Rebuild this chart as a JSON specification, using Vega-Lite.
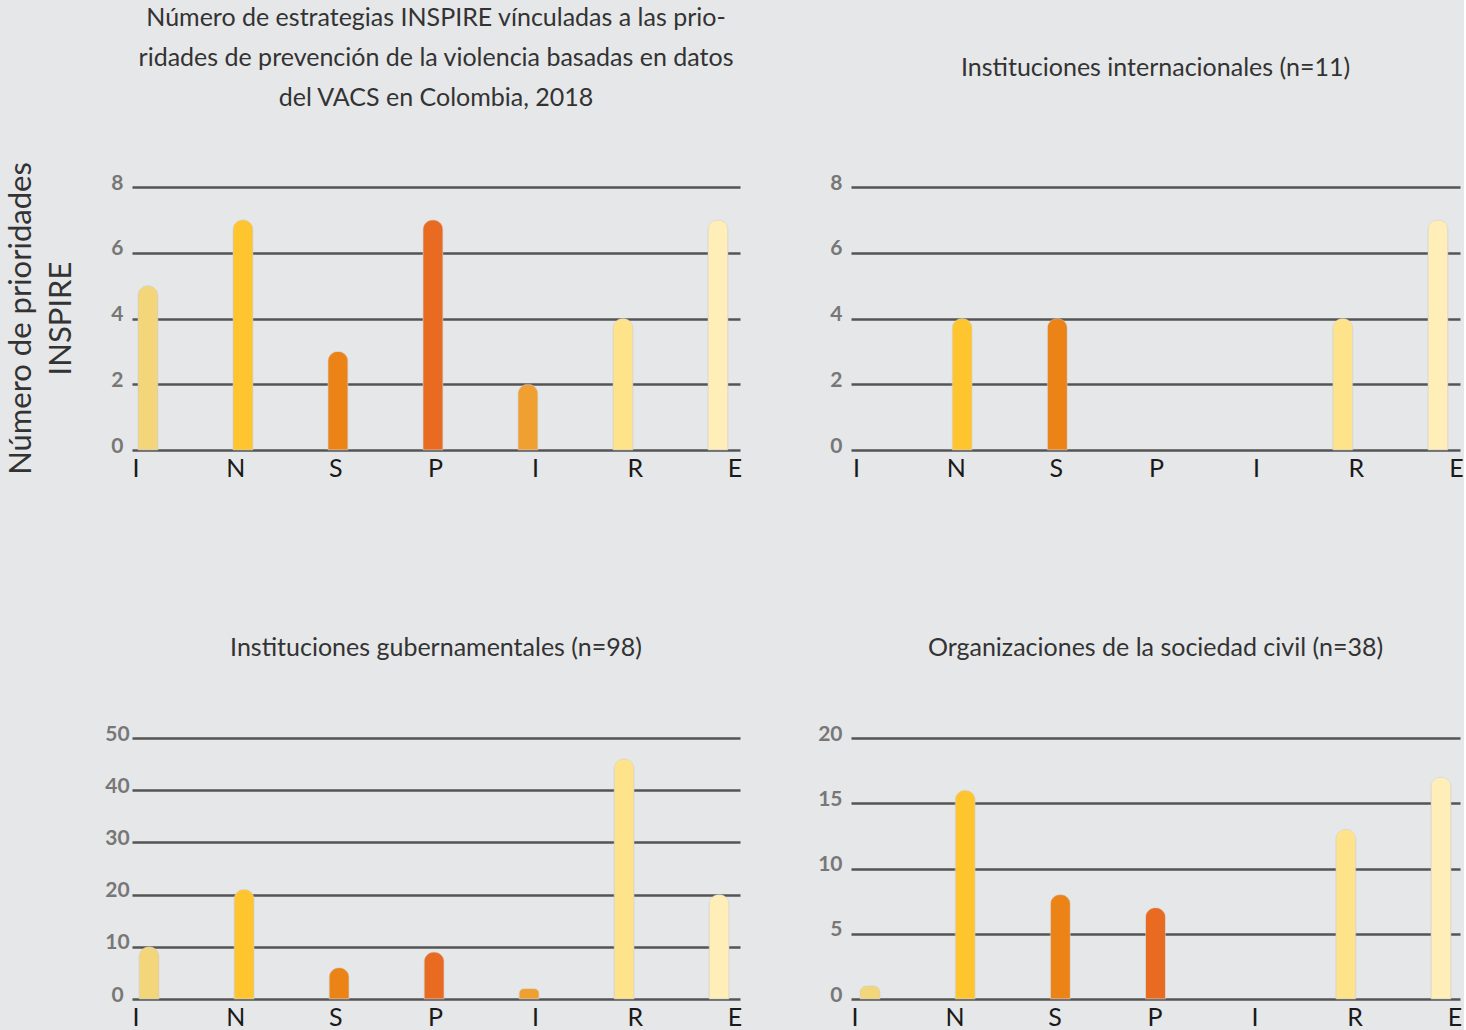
{
  "$schema": "https://vega.github.io/schema/vega-lite/v6.json",
  "background": "#e6e7e9",
  "padding": {"left": 4, "top": 5, "right": 0, "bottom": 0},
  "datasets": {
    "tl": [
      {"idx": 1, "letter": "I", "value": 5},
      {"idx": 2, "letter": "N", "value": 7},
      {"idx": 3, "letter": "S", "value": 3},
      {"idx": 4, "letter": "P", "value": 7},
      {"idx": 5, "letter": "I", "value": 2},
      {"idx": 6, "letter": "R", "value": 4},
      {"idx": 7, "letter": "E", "value": 7}
    ],
    "tr": [
      {"idx": 1, "letter": "I", "value": 0},
      {"idx": 2, "letter": "N", "value": 4},
      {"idx": 3, "letter": "S", "value": 4},
      {"idx": 4, "letter": "P", "value": 0},
      {"idx": 5, "letter": "I", "value": 0},
      {"idx": 6, "letter": "R", "value": 4},
      {"idx": 7, "letter": "E", "value": 7}
    ],
    "bl": [
      {"idx": 1, "letter": "I", "value": 10},
      {"idx": 2, "letter": "N", "value": 21},
      {"idx": 3, "letter": "S", "value": 6},
      {"idx": 4, "letter": "P", "value": 9},
      {"idx": 5, "letter": "I", "value": 2},
      {"idx": 6, "letter": "R", "value": 46},
      {"idx": 7, "letter": "E", "value": 20}
    ],
    "br": [
      {"idx": 1, "letter": "I", "value": 1},
      {"idx": 2, "letter": "N", "value": 16},
      {"idx": 3, "letter": "S", "value": 8},
      {"idx": 4, "letter": "P", "value": 7},
      {"idx": 5, "letter": "I", "value": 0},
      {"idx": 6, "letter": "R", "value": 13},
      {"idx": 7, "letter": "E", "value": 17}
    ]
  },
  "columns": 2,
  "spacing": {"row": 288, "column": 111},
  "bounds": "flush",
  "concat": [
    {
      "width": 608,
      "height": 263,
      "title": {"text": ["Número de estrategias INSPIRE vínculadas a las prio-", "ridades de prevención de la violencia basadas en datos", "del VACS en Colombia, 2018"], "frame": "group", "offset": 51},
      "data": {"name": "tl"},
      "resolve": {"scale": {"x": "independent"}},
      "layer": [
        {
          "transform": [{"filter": "datum.value > 0"}],
          "mark": {"type": "bar", "size": 20, "cornerRadiusTopLeft": 10, "cornerRadiusTopRight": 10, "stroke": "#cfcfcf", "strokeWidth": 0.5},
          "encoding": {
            "x": {"field": "idx", "type": "ordinal", "scale": {"type": "point", "domain": [1, 2, 3, 4, 5, 6, 7], "padding": 0.2, "align": 0.42}, "axis": null},
            "y": {"field": "value", "type": "quantitative", "scale": {"domain": [0, 8]},
                  "axis": {"values": [0, 2, 4, 6, 8], "title": ["Número de prioridades", "INSPIRE"],
                           "titleFont": "Lato", "titleFontSize": 31, "titleFontWeight": "normal", "titleColor": "#333333",
                           "titleAngle": -90, "titleAlign": "center", "titleBaseline": "top", "titleLineHeight": 40,
                           "titleX": -126, "titleY": 131}},
            "color": {"field": "idx", "type": "ordinal", "scale": {"domain": [1, 2, 3, 4, 5, 6, 7], "range": ["#f3d67a", "#ffc52f", "#eb8317", "#e86b21", "#f0a030", "#ffe38a", "#ffeeb8"]}, "legend": null}
          }
        },
        {
          "mark": {"type": "text", "dy": 19, "baseline": "middle", "align": "center", "fontSize": 25, "font": "Lato", "color": "#1a1a1a"},
          "encoding": {
            "x": {"field": "idx", "type": "ordinal", "scale": {"type": "point", "domain": [1, 2, 3, 4, 5, 6, 7], "padding": 0.045, "align": 0.45}, "axis": null},
            "y": {"datum": 0, "type": "quantitative", "title": null},
            "text": {"field": "letter"}
          }
        }
      ]
    },
    {
      "width": 609,
      "height": 263,
      "title": {"text": "Instituciones internacionales  (n=11)", "frame": "group", "offset": 91},
      "data": {"name": "tr"},
      "resolve": {"scale": {"x": "independent"}},
      "layer": [
        {
          "transform": [{"filter": "datum.value > 0"}],
          "mark": {"type": "bar", "size": 20, "cornerRadiusTopLeft": 10, "cornerRadiusTopRight": 10, "stroke": "#cfcfcf", "strokeWidth": 0.5},
          "encoding": {
            "x": {"field": "idx", "type": "ordinal", "scale": {"type": "point", "domain": [1, 2, 3, 4, 5, 6, 7], "padding": 0.2, "align": 0.42}, "axis": null},
            "y": {"field": "value", "type": "quantitative", "scale": {"domain": [0, 8]}, "axis": {"values": [0, 2, 4, 6, 8], "title": null}},
            "color": {"field": "idx", "type": "ordinal", "scale": {"domain": [1, 2, 3, 4, 5, 6, 7], "range": ["#f3d67a", "#ffc52f", "#eb8317", "#e86b21", "#f0a030", "#ffe38a", "#ffeeb8"]}, "legend": null}
          }
        },
        {
          "mark": {"type": "text", "dy": 19, "baseline": "middle", "align": "center", "fontSize": 25, "font": "Lato", "color": "#1a1a1a"},
          "encoding": {
            "x": {"field": "idx", "type": "ordinal", "scale": {"type": "point", "domain": [1, 2, 3, 4, 5, 6, 7], "padding": 0.045, "align": 0.6}, "axis": null},
            "y": {"datum": 0, "type": "quantitative", "title": null},
            "text": {"field": "letter"}
          }
        }
      ]
    },
    {
      "width": 608,
      "height": 261,
      "title": {"text": "Instituciones gubernamentales (n=98)", "frame": "group", "offset": 62},
      "data": {"name": "bl"},
      "resolve": {"scale": {"x": "independent"}},
      "layer": [
        {
          "transform": [{"filter": "datum.value > 0"}],
          "mark": {"type": "bar", "size": 20, "cornerRadiusTopLeft": 10, "cornerRadiusTopRight": 10, "stroke": "#cfcfcf", "strokeWidth": 0.5},
          "encoding": {
            "x": {"field": "idx", "type": "ordinal", "scale": {"type": "point", "domain": [1, 2, 3, 4, 5, 6, 7], "padding": 0.2, "align": 0.45}, "axis": null},
            "y": {"field": "value", "type": "quantitative", "scale": {"domain": [0, 50]}, "axis": {"values": [0, 10, 20, 30, 40, 50], "title": null, "labelAlign": "center", "labelPadding": 15}},
            "color": {"field": "idx", "type": "ordinal", "scale": {"domain": [1, 2, 3, 4, 5, 6, 7], "range": ["#f3d67a", "#ffc52f", "#eb8317", "#e86b21", "#f0a030", "#ffe38a", "#ffeeb8"]}, "legend": null}
          }
        },
        {
          "mark": {"type": "text", "dy": 19, "baseline": "middle", "align": "center", "fontSize": 25, "font": "Lato", "color": "#1a1a1a"},
          "encoding": {
            "x": {"field": "idx", "type": "ordinal", "scale": {"type": "point", "domain": [1, 2, 3, 4, 5, 6, 7], "padding": 0.045, "align": 0.45}, "axis": null},
            "y": {"datum": 0, "type": "quantitative", "title": null},
            "text": {"field": "letter"}
          }
        }
      ]
    },
    {
      "width": 609,
      "height": 261,
      "title": {"text": "Organizaciones de la sociedad civil (n=38)", "frame": "group", "offset": 62},
      "data": {"name": "br"},
      "resolve": {"scale": {"x": "independent"}},
      "layer": [
        {
          "transform": [{"filter": "datum.value > 0"}],
          "mark": {"type": "bar", "size": 20, "cornerRadiusTopLeft": 10, "cornerRadiusTopRight": 10, "stroke": "#cfcfcf", "strokeWidth": 0.5},
          "encoding": {
            "x": {"field": "idx", "type": "ordinal", "scale": {"type": "point", "domain": [1, 2, 3, 4, 5, 6, 7], "padding": 0.2, "align": 0.5}, "axis": null},
            "y": {"field": "value", "type": "quantitative", "scale": {"domain": [0, 20]}, "axis": {"values": [0, 5, 10, 15, 20], "title": null}},
            "color": {"field": "idx", "type": "ordinal", "scale": {"domain": [1, 2, 3, 4, 5, 6, 7], "range": ["#f3d67a", "#ffc52f", "#eb8317", "#e86b21", "#f0a030", "#ffe38a", "#ffeeb8"]}, "legend": null}
          }
        },
        {
          "mark": {"type": "text", "dy": 19, "baseline": "middle", "align": "center", "fontSize": 25, "font": "Lato", "color": "#1a1a1a"},
          "encoding": {
            "x": {"field": "idx", "type": "ordinal", "scale": {"type": "point", "domain": [1, 2, 3, 4, 5, 6, 7], "padding": 0.045, "align": 0.45}, "axis": null},
            "y": {"datum": 0, "type": "quantitative", "title": null},
            "text": {"field": "letter"}
          }
        }
      ]
    }
  ],
  "config": {
    "view": {"stroke": null},
    "axis": {"grid": true, "gridColor": "#545454", "gridWidth": 2.7, "domain": false, "ticks": false,
             "labelFont": "Lato", "labelFontSize": 21, "labelFontWeight": "bold", "labelColor": "#777777", "labelPadding": 9, "labelOffset": -4},
    "title": {"font": "Lato", "fontSize": 25, "fontWeight": "normal", "color": "#333333", "lineHeight": 40, "anchor": "middle"}
  }
}
